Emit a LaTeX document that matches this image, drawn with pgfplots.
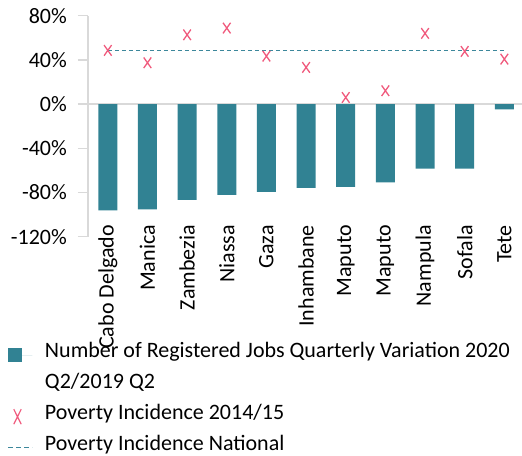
\documentclass[border=0pt]{standalone}
\usepackage{fontspec}
\setmainfont{Carlito}
\usepackage{pgfplots}
\pgfplotsset{compat=1.18}
\definecolor{barcol}{RGB}{49,130,147}
\definecolor{xcol}{RGB}{240,90,125}
\definecolor{dashcol}{RGB}{60,135,155}
\definecolor{axcol}{RGB}{217,217,217}
\newcommand{\sh}{\hspace*{-21.7bp}}
\begin{document}
\fontsize{22bp}{26bp}\selectfont
\begin{tikzpicture}
\path[use as bounding box] (-88bp,-219.3bp) rectangle (434bp,236.7bp);
\begin{axis}[
  scale only axis,
  width=434bp, height=221bp,
  xmin=-0.5, xmax=10.445,
  ymin=-120, ymax=80,
  axis lines*=left,
  x axis line style={draw=none},
  y axis line style={draw=axcol, line width=1.5bp},
  xtick={0,...,10},
  xticklabels={Cabo Delgado\sh,Manica\sh,Zambezia\sh,Niassa\sh,Gaza\sh,Inhambane\sh,Maputo\sh,Maputo\sh,Nampula\sh,Sofala\sh,Tete\sh},
  xtick style={draw=none},
  xticklabel style={rotate=90, anchor=east, inner sep=0pt, font=\fontsize{22bp}{26bp}\selectfont},
  ytick={-120,-80,-40,0,40,80},
  yticklabels={-120\%,-80\%,-40\%,0\%,40\%,80\%},
  yticklabel style={inner sep=0pt, xshift=-11bp, font=\fontsize{22bp}{26bp}\selectfont},
  ytick style={draw=axcol, line width=1.5bp},
  tick align=outside,
  major tick length=10bp,
  extra y ticks={0},
  extra y tick labels={},
  extra y tick style={grid=major, major grid style={draw=axcol, line width=1.5bp}, major tick length=0pt},
  clip=false,
  legend style={draw=none, fill=none, inner sep=0pt, outer sep=0pt,
    at={(-0.18433,-0.46606)}, anchor=north west,
    font=\fontsize{22bp}{26bp}\selectfont,
    nodes={inner sep=0pt, text height=18bp, text depth=12.8bp},
    row sep=0pt,
    /tikz/every odd column/.append style={column sep=12bp}},
  legend cell align=left,
]
\addplot[ybar, bar width=19bp, fill=barcol, draw=none,
  legend image code/.code={\fill[barcol] (0bp,-7bp) rectangle (14bp,7bp); \path[draw=none] (0bp,0bp) -- (24bp,0bp);}]
  coordinates {(0,-96.2) (1,-95.3) (2,-86.6) (3,-82.1) (4,-79.4) (5,-75.7) (6,-74.8) (7,-70.9) (8,-58.5) (9,-58.5) (10,-4.8)};
\addlegendentry{Number of Registered Jobs Quarterly Variation 2020}
\addlegendimage{empty legend}
\addlegendentry{Q2/2019 Q2}
\addplot[only marks, mark=x, mark size=7.5bp, mark options={xscale=0.71, line width=1.3bp, draw=xcol}, color=xcol,
  legend image code/.code={\draw[xcol, line width=1.2bp] (5.3bp,-7.5bp) -- (12.7bp,7.5bp) (5.3bp,7.5bp) -- (12.7bp,-7.5bp); \path[draw=none] (0bp,0bp) -- (24bp,0bp);}]
  coordinates {(0,48.6) (1,37.4) (2,62.7) (3,68.8) (4,43.4) (5,33.2) (6,6.0) (7,12.1) (8,64.0) (9,47.7) (10,40.7)};
\addlegendentry{Poverty Incidence 2014/15}
\addplot[dashcol, line width=1bp, dash pattern=on 4bp off 3bp,
  legend image code/.code={\draw[dashcol, line width=1bp, dash pattern=on 4.5bp off 3.5bp] (0bp,0bp) -- (24bp,0bp);}]
  coordinates {(0,48.4) (10,48.4)};
\addlegendentry{Poverty Incidence National}
\end{axis}
\end{tikzpicture}
\end{document}
